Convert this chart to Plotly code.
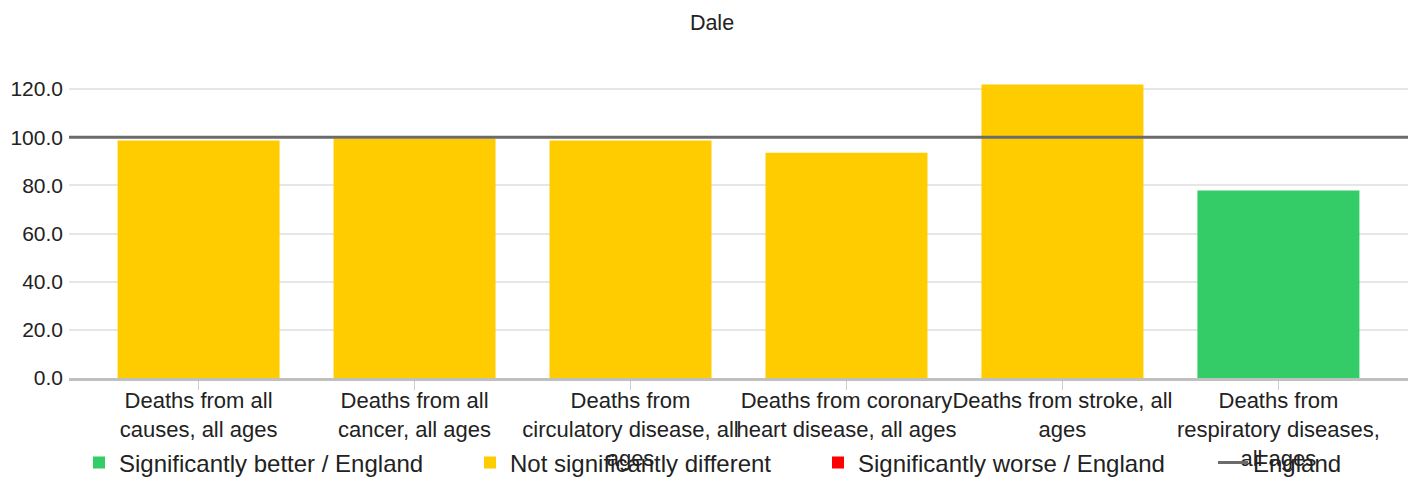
import plotly.graph_objects as go

title = "Dale"
categories = [
    "Deaths from all<br>causes, all ages",
    "Deaths from all<br>cancer, all ages",
    "Deaths from<br>circulatory disease, all<br>ages",
    "Deaths from coronary<br>heart disease, all ages",
    "Deaths from stroke, all<br>ages",
    "Deaths from<br>respiratory diseases,<br>all ages",
]
values = [98.6, 99.5, 98.6, 93.6, 121.9, 77.9]
significance = ["same", "same", "same", "same", "same", "better"]
england_value = 100.0

groups = [
    ("better", "Significantly better / England", "#33cc66"),
    ("same", "Not significantly different", "#ffcc00"),
    ("worse", "Significantly worse / England", "#ff0000"),
]

W, H = 1415, 477
ML, MR, MT, MB = 69, 7, 65, 99
FONT = "Arial, Liberation Sans, sans-serif"
TXT = "#222222"

# legend text start positions (px) in the reference
legend_text_x = [119, 510, 858, 1253]
legend_ids = ["legend", "legend2", "legend3", "legend4"]

fig = go.Figure()
for i, (key, name, color) in enumerate(groups):
    ys = [v if s == key else None for v, s in zip(values, significance)]
    fig.add_trace(go.Bar(x=categories, y=ys, name=name, marker_color=color,
                         marker_line_width=0, width=0.75, legend=legend_ids[i]))

fig.add_trace(go.Scatter(x=[0, 1], y=[england_value, england_value], xaxis="x2",
                         mode="lines", name="England", legend=legend_ids[3],
                         line=dict(color="#6b6b6b", width=3)))

legend_layout = {}
for lid, tx in zip(legend_ids, legend_text_x):
    legend_layout[lid] = dict(
        orientation="h", xref="container", yref="container",
        x=(tx - 40) / W, xanchor="left", y=1 - 463 / H, yanchor="middle",
        font=dict(size=24, family=FONT, color=TXT), bgcolor="rgba(0,0,0,0)")

fig.update_layout(
    width=W, height=H,
    paper_bgcolor="white", plot_bgcolor="white",
    margin=dict(l=ML, r=MR, t=MT, b=MB, autoexpand=False),
    barmode="overlay",
    font=dict(family=FONT, color=TXT),
    title=dict(text=title, x=712 / W, xanchor="center", y=0.953, yanchor="middle",
               font=dict(size=21.5, family=FONT, color=TXT)),
    xaxis=dict(range=[-0.6, 5.6], showgrid=False, showline=True, linecolor="#c0c0c0",
               linewidth=3, ticks="outside", ticklen=9, tickcolor="#cccccc",
               tickfont=dict(size=22, family=FONT, color=TXT), tickangle=0,
               ticklabelstandoff=-8, automargin=False),
    xaxis2=dict(range=[0, 1], overlaying="x", visible=False),
    yaxis=dict(range=[0, 130], dtick=20, tickformat=".1f", showgrid=True,
               gridcolor="#e6e6e6", gridwidth=2, zeroline=False, automargin=False,
               ticklabelstandoff=5,
               tickfont=dict(size=21, family=FONT, color=TXT)),
    showlegend=True,
    **legend_layout,
)

fig.write_html("out.html", config={"displayModeBar": False},
               post_script="document.body.style.margin='0px';document.body.style.overflow='hidden';")
